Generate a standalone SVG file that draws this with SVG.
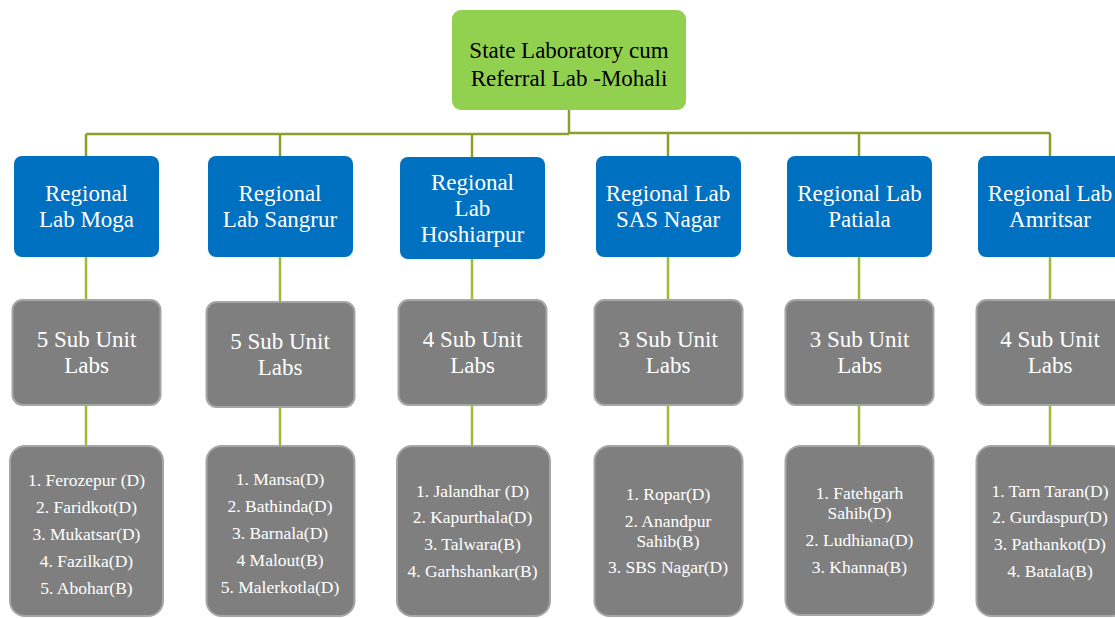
<svg xmlns="http://www.w3.org/2000/svg" width="1115" height="618" viewBox="0 0 1115 618">
<style>
.bg{fill:#ffffff}
.root{fill:#92D050}
.reg{fill:#0070C0}
.sub{fill:#7F7F7F;stroke:#A6A6A6;stroke-width:2}
text{font-family:Liberation Serif,Times New Roman,Tinos,DejaVu Serif,Noto Serif,serif;text-anchor:middle}
.tb{font-size:23px;fill:#000000}
.tw{font-size:23px;fill:#ffffff}
.ts{font-size:17.5px;fill:#ffffff}
.c1{stroke:#8E9E2C;stroke-width:2.5;fill:none}
.c2{stroke:#9DBB35;stroke-width:2.5;fill:none}
</style>
<rect class="bg" x="0" y="0" width="1115" height="618"/>
<g id="connectors">
  <path class="c1" d="M569 110 V134 M86 134 H569 M569 133 H1050 M86 134 V156 M280 133 V156 M472 133 V157 M668 133 V156 M859 133 V156 M1050 133 V156"/>
  <path class="c2" d="M86 257 V300 M280 257 V302 M472 259 V299 M668 257 V299 M859 257 V299 M1050 257 V299"/>
  <path class="c2" d="M86 405 V446 M280 407 V446 M472 405 V446 M668 405 V446 M859 405 V446 M1050 405 V446"/>
</g>
<g id="root">
  <rect class="root" x="452" y="10" width="234" height="100" rx="9"/>
  <text class="tb" x="569" y="58">State Laboratory cum</text>
  <text class="tb" x="569" y="86">Referral Lab -Mohali</text>
</g>
<g id="reg-moga">
  <rect class="reg" x="14" y="156" width="145" height="101" rx="8"/>
  <text class="tw" x="86.5" y="201">Regional</text>
  <text class="tw" x="86.5" y="227">Lab Moga</text>
</g>
<g id="reg-sangrur">
  <rect class="reg" x="208" y="156" width="145" height="101" rx="8"/>
  <text class="tw" x="280" y="201">Regional</text>
  <text class="tw" x="280" y="227">Lab Sangrur</text>
</g>
<g id="reg-hoshiarpur">
  <rect class="reg" x="400" y="157" width="145" height="102" rx="8"/>
  <text class="tw" x="472.5" y="190">Regional</text>
  <text class="tw" x="472.5" y="216">Lab</text>
  <text class="tw" x="472.5" y="242">Hoshiarpur</text>
</g>
<g id="reg-sas">
  <rect class="reg" x="596" y="156" width="145" height="101" rx="8"/>
  <text class="tw" x="668" y="201">Regional Lab</text>
  <text class="tw" x="668" y="227">SAS Nagar</text>
</g>
<g id="reg-patiala">
  <rect class="reg" x="787" y="156" width="145" height="101" rx="8"/>
  <text class="tw" x="859.5" y="201">Regional Lab</text>
  <text class="tw" x="859.5" y="227">Patiala</text>
</g>
<g id="reg-amritsar">
  <rect class="reg" x="978" y="156" width="145" height="101" rx="8"/>
  <text class="tw" x="1050" y="201">Regional Lab</text>
  <text class="tw" x="1050" y="227">Amritsar</text>
</g>
<g id="sub-moga">
  <rect class="sub" x="12.5" y="300" width="148" height="105" rx="10"/>
  <text class="tw" x="86.5" y="347">5 Sub Unit</text>
  <text class="tw" x="86.5" y="373">Labs</text>
</g>
<g id="sub-sangrur">
  <rect class="sub" x="206.5" y="302" width="148" height="105" rx="10"/>
  <text class="tw" x="280" y="349">5 Sub Unit</text>
  <text class="tw" x="280" y="375">Labs</text>
</g>
<g id="sub-hoshiarpur">
  <rect class="sub" x="398.5" y="300" width="148" height="105" rx="10"/>
  <text class="tw" x="472.5" y="347">4 Sub Unit</text>
  <text class="tw" x="472.5" y="373">Labs</text>
</g>
<g id="sub-sas">
  <rect class="sub" x="594.5" y="300" width="148" height="105" rx="10"/>
  <text class="tw" x="668" y="347">3 Sub Unit</text>
  <text class="tw" x="668" y="373">Labs</text>
</g>
<g id="sub-patiala">
  <rect class="sub" x="785.5" y="300" width="148" height="105" rx="10"/>
  <text class="tw" x="859.5" y="347">3 Sub Unit</text>
  <text class="tw" x="859.5" y="373">Labs</text>
</g>
<g id="sub-amritsar">
  <rect class="sub" x="976.5" y="300" width="148" height="105" rx="10"/>
  <text class="tw" x="1050" y="347">4 Sub Unit</text>
  <text class="tw" x="1050" y="373">Labs</text>
</g>
<g id="list-moga">
  <rect class="sub" x="10" y="446" width="153" height="170" rx="15"/>
  <text class="ts" x="86.5" y="486">1. Ferozepur (D)</text>
  <text class="ts" x="86.5" y="513">2. Faridkot(D)</text>
  <text class="ts" x="86.5" y="540">3. Mukatsar(D)</text>
  <text class="ts" x="86.5" y="567">4. Fazilka(D)</text>
  <text class="ts" x="86.5" y="594">5. Abohar(B)</text>
</g>
<g id="list-sangrur">
  <rect class="sub" x="206.5" y="446" width="148" height="170" rx="15"/>
  <text class="ts" x="280" y="485">1. Mansa(D)</text>
  <text class="ts" x="280" y="512">2. Bathinda(D)</text>
  <text class="ts" x="280" y="539">3. Barnala(D)</text>
  <text class="ts" x="280" y="566">4 Malout(B)</text>
  <text class="ts" x="280" y="593">5. Malerkotla(D)</text>
</g>
<g id="list-hoshiarpur">
  <rect class="sub" x="397" y="446" width="153" height="170" rx="15"/>
  <text class="ts" x="472.5" y="497">1. Jalandhar (D)</text>
  <text class="ts" x="472.5" y="523">2. Kapurthala(D)</text>
  <text class="ts" x="472.5" y="550">3. Talwara(B)</text>
  <text class="ts" x="472.5" y="577">4. Garhshankar(B)</text>
</g>
<g id="list-sas">
  <rect class="sub" x="594.5" y="446" width="148" height="170" rx="15"/>
  <text class="ts" x="668" y="500">1. Ropar(D)</text>
  <text class="ts" x="668" y="527">2. Anandpur</text>
  <text class="ts" x="668" y="547">Sahib(B)</text>
  <text class="ts" x="668" y="573">3. SBS Nagar(D)</text>
</g>
<g id="list-patiala">
  <rect class="sub" x="785.5" y="446" width="148" height="169" rx="15"/>
  <text class="ts" x="859.5" y="499">1. Fatehgarh</text>
  <text class="ts" x="859.5" y="519">Sahib(D)</text>
  <text class="ts" x="859.5" y="546">2. Ludhiana(D)</text>
  <text class="ts" x="859.5" y="573">3. Khanna(B)</text>
</g>
<g id="list-amritsar">
  <rect class="sub" x="976.5" y="446" width="150" height="170" rx="15"/>
  <text class="ts" x="1050" y="497">1. Tarn Taran(D)</text>
  <text class="ts" x="1050" y="523">2. Gurdaspur(D)</text>
  <text class="ts" x="1050" y="550">3. Pathankot(D)</text>
  <text class="ts" x="1050" y="577">4. Batala(B)</text>
</g>
</svg>
